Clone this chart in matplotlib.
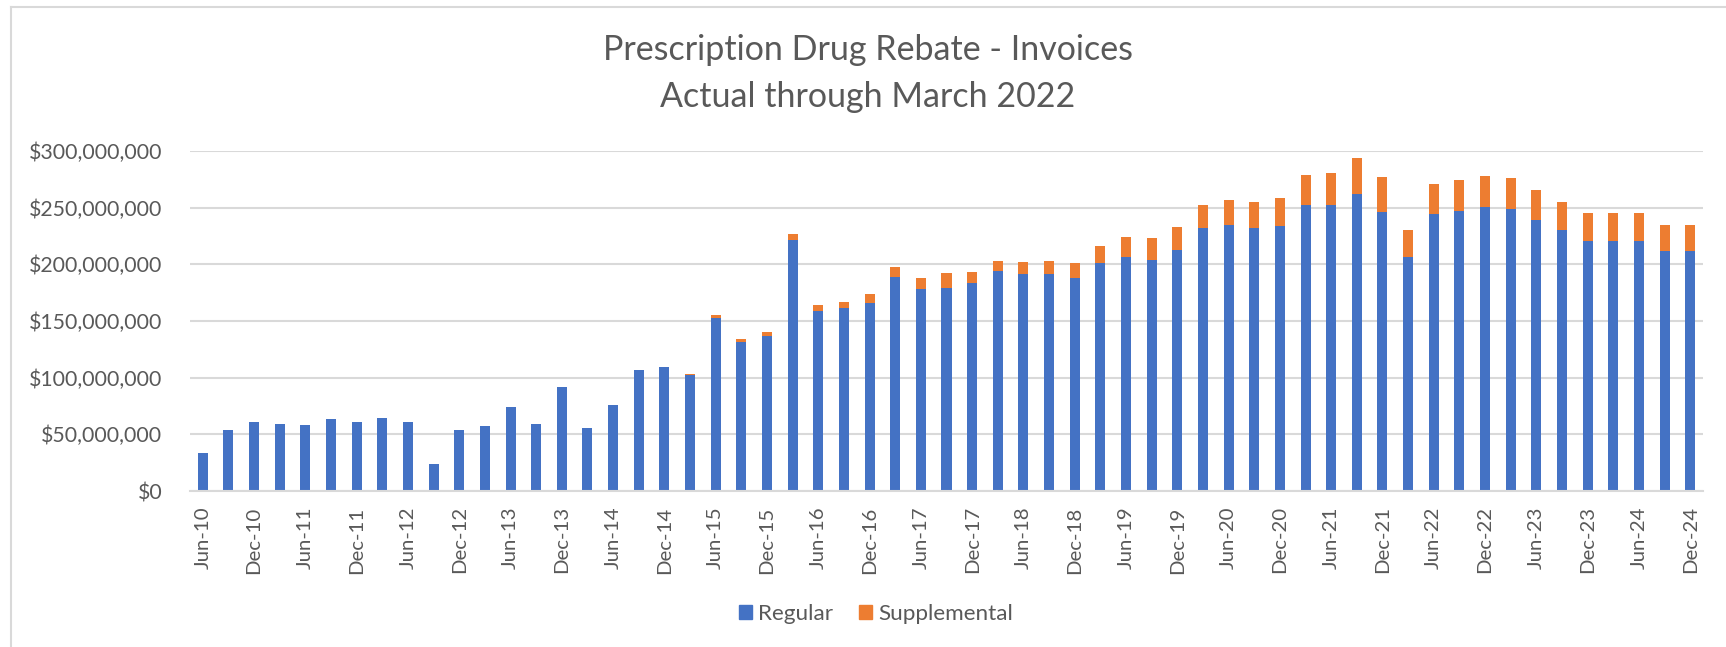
import matplotlib
matplotlib.use("Agg")
import matplotlib.pyplot as plt
from matplotlib.patches import Patch
from matplotlib.lines import Line2D
from matplotlib.ticker import FuncFormatter

plt.rcParams['font.family'] = ['Lato', 'DejaVu Sans']

# Quarterly periods Jun-10 .. Dec-24
months = ["Mar", "Jun", "Sep", "Dec"]
quarters = []
for yr in range(10, 25):
    for m in months:
        if yr == 10 and m == "Mar":
            continue
        quarters.append(f"{m}-{yr:02d}")

# values in millions of dollars
regular = [33.6, 53.6, 60.7, 59.5, 57.8, 63.1, 61.0, 64.8, 61.0, 23.9, 53.9, 57.2, 73.7, 58.9, 92.2, 56.0,
           76.3, 107.0, 109.6, 102.6, 152.7, 131.4, 137.0, 221.6, 159.1, 161.5, 166.2, 188.9, 178.0, 179.2,
           183.3, 193.9, 191.6, 191.6, 188.0, 201.0, 206.3, 203.6, 212.5,
           232.2, 234.6, 232.2, 234.0, 252.3, 252.3, 262.3, 246.4, 206.3, 244.6, 247.0, 250.5, 248.7, 239.3,
           229.9, 220.7, 220.7, 220.7, 211.9, 211.9]
supplemental = [0.0] * 19 + [0.9, 2.3, 2.4, 3.3, 5.0, 4.8, 5.0, 7.4, 8.8, 10.0, 13.0, 10.0, 8.8, 10.3, 11.2,
                             13.0, 15.0, 17.7, 19.5, 20.3,
                             20.1, 22.1, 22.7, 24.4, 26.5, 28.3, 31.5, 30.6, 23.9, 26.2, 27.4, 27.4, 27.4, 26.2,
                             25.3, 24.2, 24.2, 24.2, 22.7, 22.7]
series_names = ["Regular", "Supplemental"]
title_lines = ["Prescription Drug Rebate - Invoices", "Actual through March 2022"]

BLUE = "#4472C4"
ORANGE = "#ED7D31"
TXT = "#595959"
GRID = "#D9D9D9"

W, H = 1726, 647
fig = plt.figure(figsize=(W / 100, H / 100), dpi=100)
fig.canvas.draw()
r = fig.canvas.get_renderer()


def size_for(text, target, base=14.0):
    t = fig.text(0.5, 0.5, text, fontsize=base)
    w = t.get_window_extent(r).width
    t.remove()
    return base * target / w


fs_title = size_for(title_lines[0], 531)
fs_y = size_for("$300,000,000", 134)
fs_x = size_for("Jun-10", 63)
fs_leg = size_for("Supplemental", 135)

ax = fig.add_axes([190 / W, 1 - 491 / H, (1703 - 190) / W, (491 - 151) / H])

x = list(range(len(quarters)))
reg = [v * 1e6 for v in regular]
sup = [v * 1e6 for v in supplemental]
ax.bar(x, reg, width=0.39, color=BLUE, zorder=2)
ax.bar(x, sup, width=0.39, bottom=reg, color=ORANGE, zorder=2)

ax.set_xlim(-0.5, len(quarters) - 0.5)
ax.set_ylim(0, 300e6)
ax.set_yticks([i * 50e6 for i in range(7)])
ax.yaxis.set_major_formatter(FuncFormatter(lambda v, p: f"${v:,.0f}"))
ax.set_xticks(x[::2])
ax.set_xticklabels(quarters[::2], rotation=90)
ax.grid(axis='y', color=GRID, linewidth=1.5, zorder=0)
for s in ["top", "right", "left"]:
    ax.spines[s].set_visible(False)
ax.spines["bottom"].set_color(GRID)
ax.spines["bottom"].set_linewidth(1.5)
ax.tick_params(axis='both', length=0, colors=TXT)
ax.tick_params(axis='y', pad=20, labelsize=fs_y)
ax.tick_params(axis='x', pad=11, labelsize=fs_x)

fig.text(868 / W, 1 - 50 / H, title_lines[0], ha='center', va='center', color=TXT, fontsize=fs_title)
fig.text(868 / W, 1 - 97 / H, title_lines[1], ha='center', va='center', color=TXT, fontsize=fs_title)

px_per_em = fs_leg * 100 / 72
handles = [Patch(color=BLUE, label=series_names[0]), Patch(color=ORANGE, label=series_names[1])]
fig.legend(handles=handles, loc='center', bbox_to_anchor=(876 / W, 1 - 614 / H), ncol=2,
           frameon=False, handlelength=13 / px_per_em, handleheight=13 / px_per_em,
           handletextpad=6 / px_per_em, columnspacing=26 / px_per_em, fontsize=fs_leg, labelcolor=TXT)

# chart-area border (cropped at right and bottom)
fig.add_artist(Line2D([11 / W, 11 / W], [0, 1 - 7 / H], transform=fig.transFigure, color=GRID, lw=1.5))
fig.add_artist(Line2D([11 / W, 1], [1 - 7 / H, 1 - 7 / H], transform=fig.transFigure, color=GRID, lw=1.5))

fig.savefig("out.png", dpi=100, facecolor="white")
